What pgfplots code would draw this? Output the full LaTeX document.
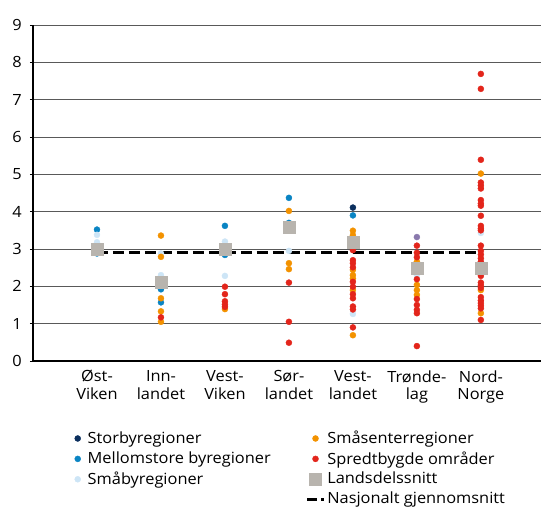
\documentclass[border=0pt]{standalone}
\usepackage{fontspec}
\setmainfont{Open Sans}[FakeStretch=1.06]
\usepackage{pgfplots}
\pgfplotsset{compat=1.18}
\definecolor{cStor}{HTML}{0B2F5E}
\definecolor{cMell}{HTML}{0A84C3}
\definecolor{cSmaby}{HTML}{CDE5F6}
\definecolor{cSenter}{HTML}{F39200}
\definecolor{cSpredt}{HTML}{E3251B}
\definecolor{cSnitt}{HTML}{B8B4AE}
\definecolor{cPurple}{HTML}{8A79AD}
\newcommand{\fs}{\fontsize{15.5}{17.7}\selectfont}
\begin{document}
\fs
\begin{tikzpicture}
\useasboundingbox (-33bp,-147bp) rectangle (508bp,361bp);
\begin{axis}[
  at={(0,0)}, anchor=south west,
  scale only axis, width=508bp, height=336bp,
  xmin=-1, xmax=6.94, ymin=0, ymax=9,
  clip=false,
  axis lines*=left,
  axis line style={line width=1.8bp, black},
  ytick={0,1,...,9},
  ymajorgrids,
  grid style={black!65, line width=0.9bp},
  xtick={0,1,...,6},
  xticklabels={{Øst-\\Viken},{Inn-\\landet},{Vest-\\Viken},{Sør-\\landet},{Vest-\\landet},{Trønde-\\lag},{Nord-\\Norge}},
  x tick label style={align=center, font=\fs, yshift=-1bp},
  y tick label style={font=\fs, xshift=-3bp},
  major x tick style={draw=none},
  major y tick style={black, line width=0.8bp},
  tick align=outside,
  major tick length=3bp,
  /pgf/number format/assume math mode=true,
  legend columns=4,
  transpose legend,
  legend cell align=left,
  legend style={at={(axis description cs:0.065,-0.196)}, anchor=north west,
    draw=none, fill=none, font=\fs,
    row sep=1.5bp,
    /tikz/column 1/.append style={column sep=5bp},
    /tikz/column 2/.append style={column sep=33bp},
    /tikz/column 3/.append style={column sep=0bp}},
]
% national average
\addplot[black, line width=2.6bp, dash pattern=on 11bp off 5bp, forget plot] coordinates {(0,2.9) (6,2.9)};

% Storbyregioner
\addplot[only marks, mark=*, mark size=3bp, mark options={draw=cStor, fill=cStor}] coordinates {
(4,4.11)
};
\addlegendentry{Storbyregioner}

% Mellomstore byregioner
\addplot[only marks, mark=*, mark size=3bp, mark options={draw=cMell, fill=cMell}] coordinates {
(0,3.52) (0,2.88)
(1,1.92) (1,1.57)
(2,3.62) (2,2.84)
(3,4.37) (3,3.70)
(4,3.90)
};
\addlegendentry{Mellomstore byregioner}

% Smaabyregioner
\addplot[only marks, mark=*, mark size=3bp, mark options={draw=cSmaby, fill=cSmaby}] coordinates {
(0,3.38) (0,3.18)
(1,2.88) (1,2.30)
(2,3.20) (2,2.28)
(3,2.95)
(4,1.26)
(5,2.30)
(6,3.43)
};
\addlegendentry{Småbyregioner}

\addlegendimage{empty legend}
\addlegendentry{}

% Smaasenterregioner
\addplot[only marks, mark=*, mark size=3bp, mark options={draw=cSenter, fill=cSenter}] coordinates {
(1,3.36) (1,2.79) (1,1.68) (1,1.33) (1,1.05)
(2,1.39)
(3,4.02) (3,2.62) (3,2.46)
(4,3.49) (4,3.37) (4,2.44) (4,2.30) (4,2.21) (4,1.90) (4,0.69)
(5,2.66) (5,2.04) (5,1.90) (5,1.77)
(6,5.02) (6,1.90) (6,1.28)
};
\addlegendentry{Småsenterregioner}

% Spredtbygde omraader
\addplot[only marks, mark=*, mark size=3bp, mark options={draw=cSpredt, fill=cSpredt}] coordinates {
(1,1.17)
(2,1.99) (2,1.79) (2,1.60) (2,1.52) (2,1.45)
(3,2.10) (3,1.05) (3,0.49)
(4,2.97) (4,2.70) (4,2.62) (4,2.51) (4,2.12) (4,1.99) (4,1.79) (4,1.68) (4,1.46) (4,1.38) (4,0.90)
(5,3.09) (5,2.90) (5,2.78) (5,2.19) (5,1.66) (5,1.50) (5,1.37) (5,1.28) (5,0.40)
(6,7.69) (6,7.29) (6,5.39) (6,4.78) (6,4.70) (6,4.62) (6,4.31) (6,4.22) (6,4.16) (6,3.89)
(6,3.62) (6,3.55) (6,3.50) (6,3.09) (6,2.95) (6,2.85) (6,2.75) (6,2.66) (6,2.28) (6,2.10)
(6,2.03) (6,1.96) (6,1.71) (6,1.62) (6,1.55) (6,1.48) (6,1.41) (6,1.10)
};
\addlegendentry{Spredtbygde områder}

% extra purple point (Troendelag)
\addplot[only marks, mark=*, mark size=3bp, mark options={draw=cPurple, fill=cPurple}, forget plot] coordinates {(5,3.32)};

% Landsdelssnitt
\addplot[only marks, mark=square*, mark size=6bp, mark options={draw=cSnitt, fill=cSnitt}] coordinates {
(0,3.00) (1,2.10) (2,3.00) (3,3.58) (4,3.19) (5,2.48) (6,2.48)
};
\addlegendentry{Landsdelssnitt}

\addlegendimage{black, line width=2.6bp, dash pattern=on 10bp off 4bp}
\addlegendentry{Nasjonalt gjennomsnitt}
\end{axis}
\end{tikzpicture}
\end{document}
